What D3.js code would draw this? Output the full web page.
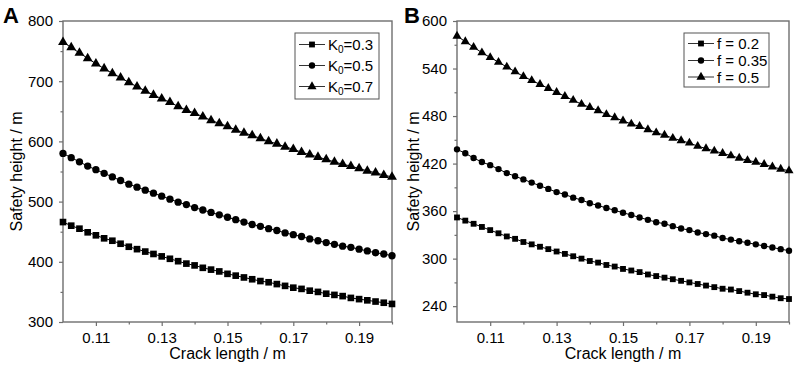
<!DOCTYPE html>
<html>
<head>
<meta charset="utf-8">
<script src="https://cdn.jsdelivr.net/npm/d3@7"></script>
<style>
  body { margin: 0; background: #fff; }
  svg text { font-family: "Liberation Sans", Arial, sans-serif; }
</style>
</head>
<body>
<div id="chart-container"></div>
<script>
// crack length (m), shared by both panels
const crack = [0.1, 0.1025, 0.105, 0.1075, 0.11, 0.1125, 0.115, 0.1175, 0.12, 0.1225,
    0.125, 0.1275, 0.13, 0.1325, 0.135, 0.1375, 0.14, 0.1425, 0.145, 0.1475,
    0.15, 0.1525, 0.155, 0.1575, 0.16, 0.1625, 0.165, 0.1675, 0.17, 0.1725,
    0.175, 0.1775, 0.18, 0.1825, 0.185, 0.1875, 0.19, 0.1925, 0.195, 0.1975, 0.2];

// panel A: safety height for K0 values
const k03 = [466, 460, 455, 449, 444, 439, 435, 430, 425, 421, 417, 413, 409, 405, 401, 397, 394, 390, 387, 384,
    380, 377, 374, 371, 368, 366, 363, 360, 357, 355, 352, 350, 347, 345, 343, 340, 338, 336, 334, 332, 330];
const k05 = [580, 573, 566, 559, 553, 547, 541, 535, 529, 524, 519, 514, 509, 504, 499, 495, 490, 486, 482, 478,
    474, 470, 466, 462, 459, 455, 452, 448, 445, 442, 438, 435, 432, 429, 426, 424, 421, 418, 415, 413, 410];
const k07 = [765, 756, 747, 738, 729, 721, 713, 706, 698, 691, 684, 677, 671, 665, 658, 652, 647, 641, 635, 630,
    625, 619, 614, 610, 605, 600, 596, 591, 587, 582, 578, 574, 570, 566, 562, 559, 555, 551, 548, 544, 541];

// panel B: safety height for friction f
const f02 = [352, 348, 344, 340, 336, 332, 328, 325, 321, 318, 315, 312, 309, 306, 303, 300, 297, 295, 292, 290,
    287, 285, 283, 280, 278, 276, 274, 272, 270, 268, 266, 264, 262, 261, 259, 257, 255, 254, 252, 250, 249];
const f035 = [438, 433, 427, 422, 418, 413, 408, 404, 400, 396, 392, 388, 384, 381, 377, 374, 370, 367, 364, 361,
    358, 355, 352, 349, 346, 344, 341, 338, 336, 333, 331, 329, 326, 324, 322, 320, 318, 316, 314, 312, 310];
const f05 = [581, 574, 567, 560, 554, 548, 542, 536, 530, 525, 520, 515, 510, 505, 500, 495, 491, 487, 482, 478,
    474, 470, 467, 463, 459, 456, 452, 449, 446, 442, 439, 436, 433, 430, 427, 424, 422, 419, 416, 413, 411];

const xTicks = [0.11, 0.13, 0.15, 0.17, 0.19];
const xMinor = [0.12, 0.14, 0.16, 0.18, 0.2];
const yTicksA = [300, 400, 500, 600, 700, 800];
const yMinorA = [350, 450, 550, 650, 750];
const yTicksB = [240, 300, 360, 420, 480, 540, 600];
const yMinorB = [270, 330, 390, 450, 510, 570];

const labelsA = [["K", "0", "=0.3"], ["K", "0", "=0.5"], ["K", "0", "=0.7"]];
const labelsB = [["f = 0.2"], ["f = 0.35"], ["f = 0.5"]];
const shapes = ["square", "circle", "triangle"];

const W = 796, H = 371;
const axisColor = "#6e6e6e";

const svg = d3.select("#chart-container").append("svg")
    .attr("width", W)
    .attr("height", H);

function symbolPath(shape, big) {
    if (shape === "square") return d3.symbol(d3.symbolSquare, big ? 44 : 34)();
    if (shape === "circle") return d3.symbol(d3.symbolCircle, big ? 42 : 32)();
    return d3.symbol(d3.symbolTriangle, big ? 42 : 36)();
}

function drawPanel(cfg) {
    const x = d3.scaleLinear().domain([0.1, 0.2]).range([cfg.left, cfg.right]);
    const y = d3.scaleLinear().domain(cfg.yDomain).range([cfg.bottom, cfg.top]);
    const g = svg.append("g");

    // frame
    g.append("rect")
        .attr("x", cfg.left)
        .attr("y", cfg.top)
        .attr("width", cfg.right - cfg.left)
        .attr("height", cfg.bottom - cfg.top)
        .attr("fill", "none")
        .attr("stroke", axisColor)
        .attr("stroke-width", 1.4);

    g.append("g")
        .attr("transform", `translate(0,${cfg.bottom})`)
        .call(d3.axisBottom(x).tickValues(xTicks).tickFormat(d3.format(".2f"))
            .tickSizeInner(4).tickSizeOuter(0).tickPadding(6));
    g.append("g")
        .attr("transform", `translate(0,${cfg.bottom})`)
        .call(d3.axisBottom(x).tickValues(xMinor).tickFormat("").tickSizeInner(2.5).tickSizeOuter(0));

    g.append("g")
        .attr("transform", `translate(${cfg.left},0)`)
        .call(d3.axisLeft(y).tickValues(cfg.yTicks).tickFormat(d3.format("d"))
            .tickSizeInner(4).tickSizeOuter(0).tickPadding(6));
    g.append("g")
        .attr("transform", `translate(${cfg.left},0)`)
        .call(d3.axisLeft(y).tickValues(cfg.yMinor).tickFormat("").tickSizeInner(2.5).tickSizeOuter(0));

    g.selectAll(".domain").remove();
    g.selectAll(".tick line").attr("stroke", axisColor).attr("stroke-width", 1.2);
    g.selectAll(".tick text")
        .attr("fill", "#000")
        .style("font-size", "15px")
        .style("font-family", "'Liberation Sans', Arial, sans-serif");

    // axis titles
    g.append("text")
        .attr("x", (cfg.left + cfg.right) / 2)
        .attr("y", 359)
        .attr("text-anchor", "middle")
        .attr("font-size", "16px")
        .attr("fill", "#000")
        .text("Crack length / m");

    g.append("text")
        .attr("transform", `translate(${cfg.yTitleX},${(cfg.top + cfg.bottom) / 2}) rotate(-90)`)
        .attr("text-anchor", "middle")
        .attr("font-size", "16px")
        .attr("fill", "#000")
        .text("Safety height / m");

    // panel letter
    g.append("text")
        .attr("x", cfg.letterX)
        .attr("y", 23)
        .attr("font-size", "22px")
        .attr("font-weight", "bold")
        .attr("fill", "#000")
        .text(cfg.letter);

    // series
    const line = d3.line().x((d, i) => x(crack[i])).y(d => y(d));
    cfg.series.forEach(function(vals, si) {
        g.append("path")
            .datum(vals)
            .attr("fill", "none")
            .attr("stroke", "#000")
            .attr("stroke-width", 1)
            .attr("d", line);
        g.selectAll(null)
            .data(vals)
            .enter().append("path")
            .attr("transform", (d, i) => `translate(${x(crack[i])},${y(d)})`)
            .attr("d", symbolPath(shapes[si], cfg.big))
            .attr("fill", "#000");
    });

    // legend
    const lg = cfg.legend;
    g.append("rect")
        .attr("x", lg.x)
        .attr("y", lg.y)
        .attr("width", lg.w)
        .attr("height", lg.h)
        .attr("fill", "#fff")
        .attr("stroke", "#555")
        .attr("stroke-width", 1);
    cfg.labels.forEach(function(lab, i) {
        const cy = lg.rowY[i];
        g.append("line")
            .attr("x1", lg.x + 4).attr("x2", lg.x + 30)
            .attr("y1", cy).attr("y2", cy)
            .attr("stroke", "#333").attr("stroke-width", 1);
        g.append("path")
            .attr("transform", `translate(${lg.x + 17},${cy})`)
            .attr("d", symbolPath(shapes[i], false))
            .attr("fill", "#000");
        const t = g.append("text")
            .attr("x", lg.x + 33)
            .attr("y", cy + 5.5)
            .attr("font-size", "15px")
            .attr("fill", "#000");
        t.append("tspan").text(lab[0]);
        if (lab.length > 1) {
            t.append("tspan").attr("font-size", "10px").attr("dy", 3).text(lab[1]);
            t.append("tspan").attr("dy", -3).text(lab[2]);
        }
    });
}

drawPanel({
    letter: "A", letterX: 3,
    left: 63, right: 392, top: 21, bottom: 322,
    yDomain: [300, 800], yTicks: yTicksA, yMinor: yMinorA,
    yTitleX: 22,
    series: [k03, k05, k07],
    labels: labelsA,
    big: true,
    legend: { x: 295, y: 33, w: 84, h: 66, rowY: [44.5, 65.5, 86.5] }
});

drawPanel({
    letter: "B", letterX: 404,
    left: 457, right: 789, top: 21, bottom: 322,
    yDomain: [220, 600], yTicks: yTicksB, yMinor: yMinorB,
    yTitleX: 419,
    series: [f02, f035, f05],
    labels: labelsB,
    big: false,
    legend: { x: 684, y: 33, w: 85, h: 54, rowY: [43.5, 60.5, 77] }
});
</script>
</body>
</html>
